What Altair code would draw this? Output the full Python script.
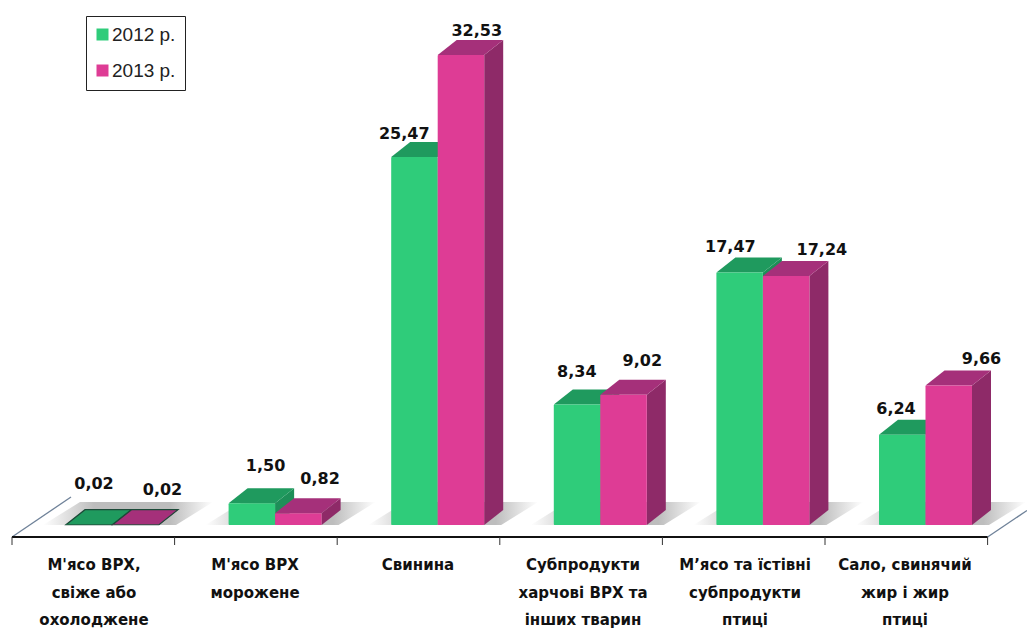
import altair as alt
import pandas as pd

categories = ["М'ясо ВРХ,\nсвіже або\nохолоджене", "М'ясо ВРХ\nморожене", "Свинина",
              "Субпродукти\nхарчові ВРХ та\nінших тварин", "М’ясо та їстівні\nсубпродукти\nптиці",
              "Сало, свинячий\nжир і жир\nптиці"]
labels_2012 = ["0,02", "1,50", "25,47", "8,34", "17,47", "6,24"]
labels_2013 = ["0,02", "0,82", "32,53", "9,02", "17,24", "9,66"]
values_2012 = [0.02, 1.50, 25.47, 8.34, 17.47, 6.24]
values_2013 = [0.02, 0.82, 32.53, 9.02, 17.24, 9.66]
series = ["2012 р.", "2013 р."]

# scale of the picture: one category = 162.6 px, one value unit = 14.45 px
PX_X, PX_Y = 162.6, 14.45
W, H = 1019, 620
x_dom = [(8 - 12) / PX_X, (8 + W - 12) / PX_X]
y_dom = [(525 - 8 - H) / PX_Y, (525 - 8) / PX_Y]
bar_w = 46.5 / PX_X
start = 54 / PX_X
dep_x, dep_y = 19 / PX_X, 15 / PX_Y
axis_y = -12 / PX_Y

# label nudges relative to each bar (px), as placed by hand in the original
nudge_x = [[28, 37, 13, 23, 14, 17], [50, 45, 39, 42, 59, 56]]
nudge_y = [[41, 37, 23, 32, 26, 26], [35, 34, 24, 34, 26, 26]]

fronts, sides, tops, texts = [], [], [], []
for s, (name, vals, labs) in enumerate(zip(series, [values_2012, values_2013], [labels_2012, labels_2013])):
    for i, (v, lab) in enumerate(zip(vals, labs)):
        x0 = i + start + s * bar_w
        x1 = x0 + bar_w
        b = f"{s}-{i}"
        fronts.append(dict(s=name, x=x0, x2=x1, y=0, y2=v))
        sides += [dict(b=b, s=name, x=x1, y=0, y2=v),
                  dict(b=b, s=name, x=x1 + dep_x, y=dep_y, y2=v + dep_y)]
        tops += [dict(b=b, s=name, v=v, x=x0, y=v, y2=v),
                 dict(b=b, s=name, v=v, x=x0 + dep_x, y=v, y2=v + dep_y),
                 dict(b=b, s=name, v=v, x=x1, y=v, y2=v + dep_y),
                 dict(b=b, s=name, v=v, x=x1 + dep_x, y=v + dep_y, y2=v + dep_y)]
        texts.append(dict(t=lab, x=x0 + nudge_x[s][i] / PX_X, y=v + nudge_y[s][i] / PX_Y))
fronts, sides, tops, texts = map(pd.DataFrame, (fronts, sides, tops, texts))

sh_l, sh_r, sh_d, sh_h = 23 / PX_X, 17 / PX_X, 37 / PX_X, 23 / PX_Y
shadow = []
for i in range(len(categories)):
    a = i + start - sh_l
    c = i + start + 2 * bar_w + sh_r
    shadow += [dict(b=i, x=a, y=0, y2=0), dict(b=i, x=a + sh_d, y=0, y2=sh_h),
               dict(b=i, x=c, y=0, y2=sh_h), dict(b=i, x=c + sh_d, y=sh_h, y2=sh_h)]
shadow = pd.DataFrame(shadow)

ticks = pd.DataFrame({"x": list(range(len(categories) + 1))})
ticks["y"], ticks["y2"] = axis_y, axis_y - 8 / PX_Y
base_line = pd.DataFrame({"x": [0], "x2": [len(categories)], "y": [axis_y]})
floor_edges = pd.DataFrame({
    "b": [0, 0, 1, 1],
    "x": [0, 59 / PX_X, len(categories), x_dom[1]],
    "y": [axis_y, axis_y + 40 / PX_Y, axis_y, axis_y + 26.5 / PX_Y]})
cat_text = pd.DataFrame({"t": categories, "x": [(c - 12) / PX_X for c in [94, 255, 418, 583, 745, 905]],
                         "y": [(525 - 558) / PX_Y] * 6})

X = alt.X("x:Q", scale=alt.Scale(domain=x_dom, nice=False, zero=False), axis=None)
Y = alt.Y("y:Q", scale=alt.Scale(domain=y_dom, nice=False, zero=False), axis=None, stack=None)
Y2 = alt.Y2("y2:Q")

color = alt.Color("s:N", scale=alt.Scale(domain=series, range=["#2fcc7a", "#de3c95"]),
                  legend=alt.Legend(orient="none", legendX=78, legendY=8, title=None, symbolType="square",
                                    symbolSize=144, symbolStrokeWidth=0, symbolOffset=-2,
                                    labelFont="Liberation Sans",
                                    labelFontSize=19, labelColor="#222222", labelOffset=0, rowPadding=16,
                                    fillColor="white", strokeColor="#222222", padding=9, labelLimit=120))


def faces(name, side_col, top_col):
    pick = alt.datum.s == name
    return [
        alt.Chart(sides).transform_filter(pick).mark_area(orient="vertical", color=side_col).encode(X, Y, Y2, detail="b:N"),
        alt.Chart(tops).transform_filter(pick).mark_area(orient="vertical", color=top_col).encode(X, Y, Y2, detail="b:N"),
        alt.Chart(tops).transform_filter(pick).transform_filter(alt.datum.v < 0.1)
           .mark_area(orient="vertical", color=top_col, stroke="#1c4a38", strokeWidth=1.2).encode(X, Y, Y2, detail="b:N"),
        alt.Chart(fronts).transform_filter(pick).mark_bar(cornerRadius=1).encode(X, alt.X2("x2:Q"), Y, Y2, color),
    ]


grad = alt.Gradient(gradient="linear", x1=0, x2=1, y1=0, y2=0, stops=[
    alt.GradientStop(offset=0, color="#ffffff"), alt.GradientStop(offset=0.3, color="#bdbdbd"),
    alt.GradientStop(offset=0.75, color="#bdbdbd"), alt.GradientStop(offset=1, color="#ffffff")])

layers = [
    alt.Chart(shadow).mark_area(orient="vertical", fill=grad).encode(X, Y, Y2, detail="b:N"),
    alt.Chart(floor_edges).mark_line(color="#6f8299", strokeWidth=1.3).encode(X, Y, detail="b:N"),
    alt.Chart(base_line).mark_rule(color="#111111", strokeWidth=2).encode(X, alt.X2("x2:Q"), Y),
    alt.Chart(ticks).mark_rule(color="#333333", strokeWidth=1).encode(X, Y, Y2),
    *faces(series[0], "#1d8f58", "#1f9a5e"),
    *faces(series[1], "#8e2a68", "#a5307a"),
    alt.Chart(texts).mark_text(font="DejaVu Sans", fontWeight="bold", fontSize=16, color="#111111",
                               align="center", baseline="middle").encode(X, Y, text="t:N"),
    alt.Chart(cat_text).mark_text(font="DejaVu Sans", fontWeight="bold", fontSize=15, color="#111111",
                                  align="center", baseline="top", lineBreak="\n", lineHeight=27.5).encode(X, Y, text="t:N"),
]

chart = alt.layer(*layers).properties(
    width=W, height=H, padding=0, autosize=alt.AutoSizeParams(type="none"), background="white"
).configure_view(stroke=None)

chart.save("out.html", embed_options={"renderer": "svg", "actions": False})
